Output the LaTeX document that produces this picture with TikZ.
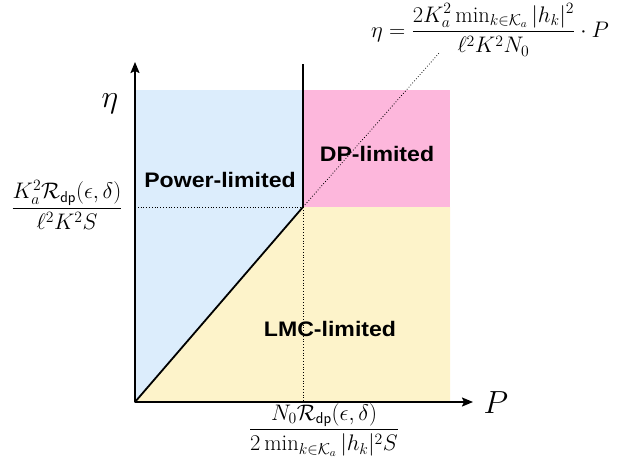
\RequirePackage{fix-cm}
\documentclass[tikz,border=0pt]{standalone}
\usepackage{fontspec}
\usepackage{amsmath}
\newfontfamily\labfont{Liberation Sans}
\usetikzlibrary{arrows.meta}
\definecolor{powerblue}{RGB}{220,237,252}
\definecolor{dppink}{RGB}{253,183,220}
\definecolor{lmcyellow}{RGB}{253,243,202}
\tikzset{
  axis/.style={line width=1.8pt,-{Stealth[length=11pt,width=9pt,inset=2pt]}},
  bound/.style={line width=1.8pt},
  guide/.style={line width=0.8pt,dotted},
  region/.style={font=\labfont\bfseries\fontsize{21}{25}\selectfont,inner sep=0pt},
  bigmath/.style={font=\fontsize{32}{38}\selectfont,inner sep=0pt},
  fracmath/.style={font=\fontsize{22.5}{27}\selectfont,inner sep=0pt}
}
\begin{document}
\begin{tikzpicture}[x=1pt,y=-1pt]
\useasboundingbox (0,0) rectangle (636,460);
\coordinate (O) at (135,402);
\coordinate (C) at (303,207);
\coordinate (Yend) at (135,62);
\coordinate (Xend) at (473,402);
\coordinate (Vtop) at (303,64);
\coordinate (Hleft) at (135,207);
\coordinate (Vbot) at (303,402);
\coordinate (Dend) at (440,52);
\fill[powerblue] (135,90) rectangle (303,402);
\fill[dppink] (303,90) rectangle (450,207);
\fill[lmcyellow] (O) -- (C) -- (450,207) -- (450,402) -- cycle;
\draw[guide] (Hleft) -- (C);
\draw[guide] (C) -- (Vbot);
\draw[guide] (C) -- (Dend);
\draw[bound] (C) -- (Vtop);
\draw[bound,line cap=round] (O) -- (C);
\draw[axis] (O) -- (Yend);
\draw[axis] (O) -- (Xend);
\node[region] (pl) at (220,180) {\scalebox{1.1}[1]{Power-limited}};
\node[region] (dl) at (377,154) {\scalebox{1.1}[1]{DP-limited}};
\node[region] (ll) at (330,329) {\scalebox{1.1}[1]{LMC-limited}};
\node[bigmath] (eta) at (110,104) {$\eta$};
\node[bigmath] (P) at (496,403) {$P$};
\node[fracmath] (top) at (490,30) {$\displaystyle \eta=\frac{2K_a^2\min_{k\in\mathcal{K}_a}|h_k|^2}{\ell^2K^2N_0}\cdot P$};
\node[fracmath] (left) at (67,205) {$\displaystyle \frac{K_a^2\mathcal{R}_{\mathsf{dp}}(\epsilon,\delta)}{\ell^2K^2S}$};
\node[fracmath] (bottom) at (324,430) {$\displaystyle \frac{N_0\mathcal{R}_{\mathsf{dp}}(\epsilon,\delta)}{2\min_{k\in\mathcal{K}_a}|h_k|^2S}$};
\end{tikzpicture}
\end{document}
